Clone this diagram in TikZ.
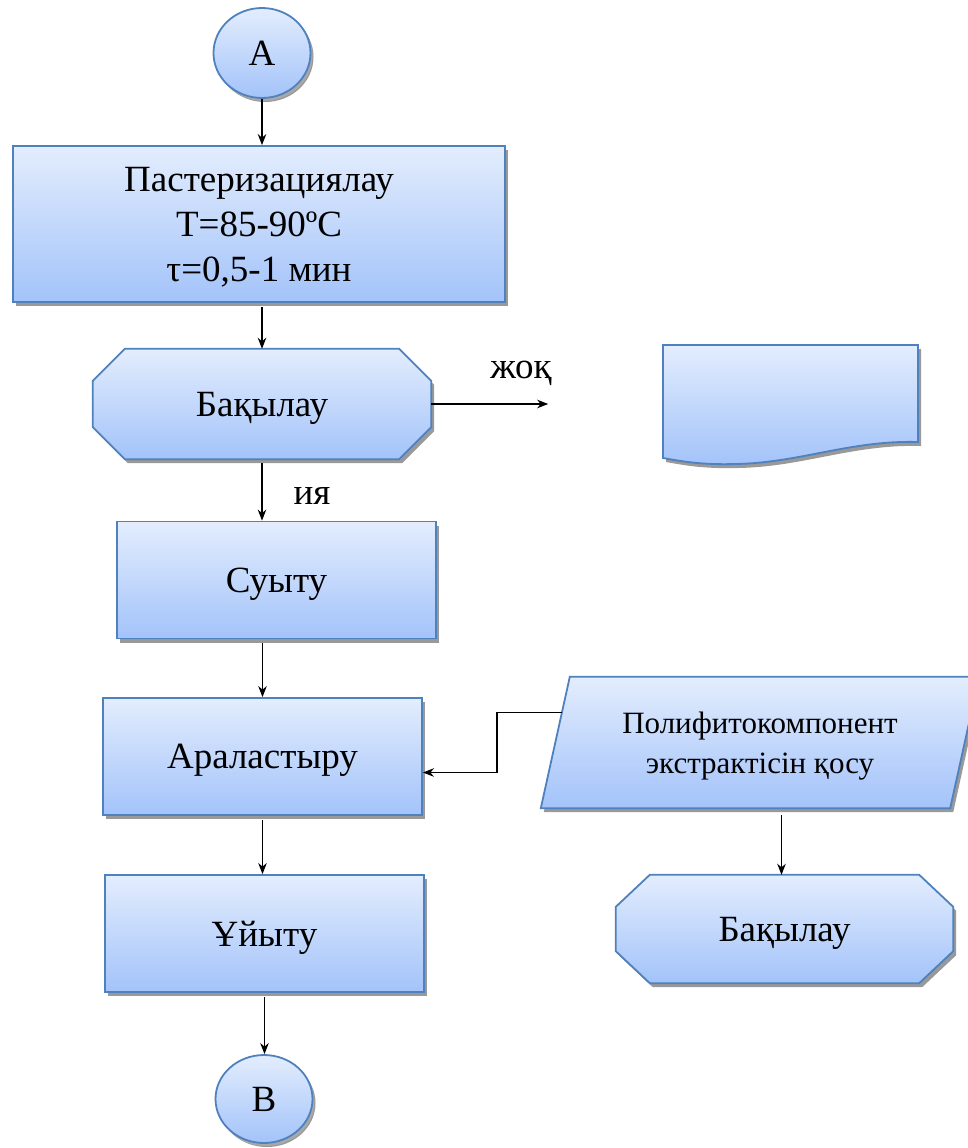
\documentclass[tikz,border=0pt]{standalone}
\usepackage{fontspec}
\setmainfont{Liberation Serif}
\usetikzlibrary{shapes.geometric,shadows,arrows.meta,calc,backgrounds}

\definecolor{edgeblue}{RGB}{79,129,189}
\definecolor{topblue}{RGB}{227,237,253}
\definecolor{botblue}{RGB}{163,195,250}

\tikzset{
  block/.style={draw=edgeblue, line width=1.8pt, top color=topblue, bottom color=botblue,
    drop shadow={shadow xshift=3pt, shadow yshift=-4pt, fill=black!40, opacity=1}},
  txt/.style={inner sep=0pt, align=center, text depth=0pt, font=\fontsize{37}{45}\selectfont},
  procbox/.style={block, txt, rectangle, minimum width=#1, minimum height=117pt},
  endpt/.style={block, txt, ellipse, minimum width=97pt, minimum height=90pt,
    drop shadow={shadow xshift=2pt, shadow yshift=-3pt, fill=black!30, opacity=.6}},
  flow/.style={-{Stealth[length=11pt,width=8.5pt,inset=3.5pt]}, line width=1.5pt},
  lbl/.style={inner sep=0pt, font=\fontsize{37}{45}\selectfont}
}

\begin{document}
\begin{tikzpicture}[x=1pt,y=-1pt]
  \useasboundingbox (0,0) rectangle (967,1148);

  \node[endpt] (A) at (262,53) {A};
  \node[procbox=492pt, minimum height=156pt] (past) at (259,224) {Пастеризациялау\\T=85-90ºC\\τ=0,5-1 мин};
  \node[txt, minimum width=338pt, minimum height=110pt] (ctrlA) at (262,404) {Бақылау};
  \node[procbox=319pt] (cool) at (276.5,580) {Суыту};
  \node[procbox=319pt] (mix) at (262.5,756.5) {Араластыру};
  \node[procbox=319pt] (ferm) at (264.5,933.5) {Ұйыту};
  \node[endpt, minimum height=88pt] (B) at (264,1099) {B};

  \node[txt, font=\fontsize{31}{40}\selectfont, minimum width=438pt, minimum height=131pt] (extr) at (760,742.5) {Полифитокомпонент\\экстрактісін қосу};
  \node[txt, minimum width=337pt, minimum height=108pt] (ctrlB) at (784.5,929) {Бақылау};

  \node[lbl] (no) at (521,373) {жоқ};
  \node[lbl] (yes) at (312,496) {ия};

  \begin{pgfonlayer}{background}
    % octagons
    \filldraw[block] ($(ctrlA.north west)+(32,0)$) -- ($(ctrlA.north east)+(-32,0)$)
      -- ($(ctrlA.north east)+(0,32)$) -- ($(ctrlA.south east)+(0,-32)$)
      -- ($(ctrlA.south east)+(-32,0)$) -- ($(ctrlA.south west)+(32,0)$)
      -- ($(ctrlA.south west)+(0,-32)$) -- ($(ctrlA.north west)+(0,32)$) -- cycle;
    \filldraw[block] ($(ctrlB.north west)+(34,0)$) -- ($(ctrlB.north east)+(-34,0)$)
      -- ($(ctrlB.north east)+(0,32)$) -- ($(ctrlB.south east)+(0,-32)$)
      -- ($(ctrlB.south east)+(-34,0)$) -- ($(ctrlB.south west)+(34,0)$)
      -- ($(ctrlB.south west)+(0,-32)$) -- ($(ctrlB.north west)+(0,32)$) -- cycle;
    % input parallelogram
    \filldraw[block] ($(extr.north west)+(29,0)$) -- (extr.north east)
      -- ($(extr.south east)+(-29,0)$) -- (extr.south west) -- cycle;
    % document shape on the right
    \filldraw[block] (663,345) -- (918,345) -- (918,442)
      .. controls (850,440) and (800,463) .. (735,464)
      .. controls (700,465) and (680,461) .. (663,458) -- cycle;
  \end{pgfonlayer}

  \draw[flow] (A) -- (A |- past.north);
  \draw[flow, shorten <=4pt] (A |- past.south) -- (ctrlA.north);
  \draw[flow] (ctrlA.east) -- ++(117,0);
  \draw[flow, shorten <=4pt] (ctrlA.south) -- (ctrlA.south |- cool.north);
  \draw[flow, shorten <=4pt] (mix.north |- cool.south) -- (mix.north);
  \draw[flow, shorten <=4pt] (mix.south) -- (mix.south |- ferm.north);
  \draw[flow, shorten <=4pt] (ferm.south) -- (ferm.south |- B.north);
  \draw[flow] ($($(extr.north west)+(29,0)$)!0.27!(extr.south west)$)
    -| ($(mix.east)+(74,16)$) |- ($(mix.east)+(0,16)$);
  \draw[flow, shorten <=7pt] ($(ctrlB.north |- extr.south)+(-3,0)$) -- ($(ctrlB.north)+(-3,0)$);
\end{tikzpicture}
\end{document}
